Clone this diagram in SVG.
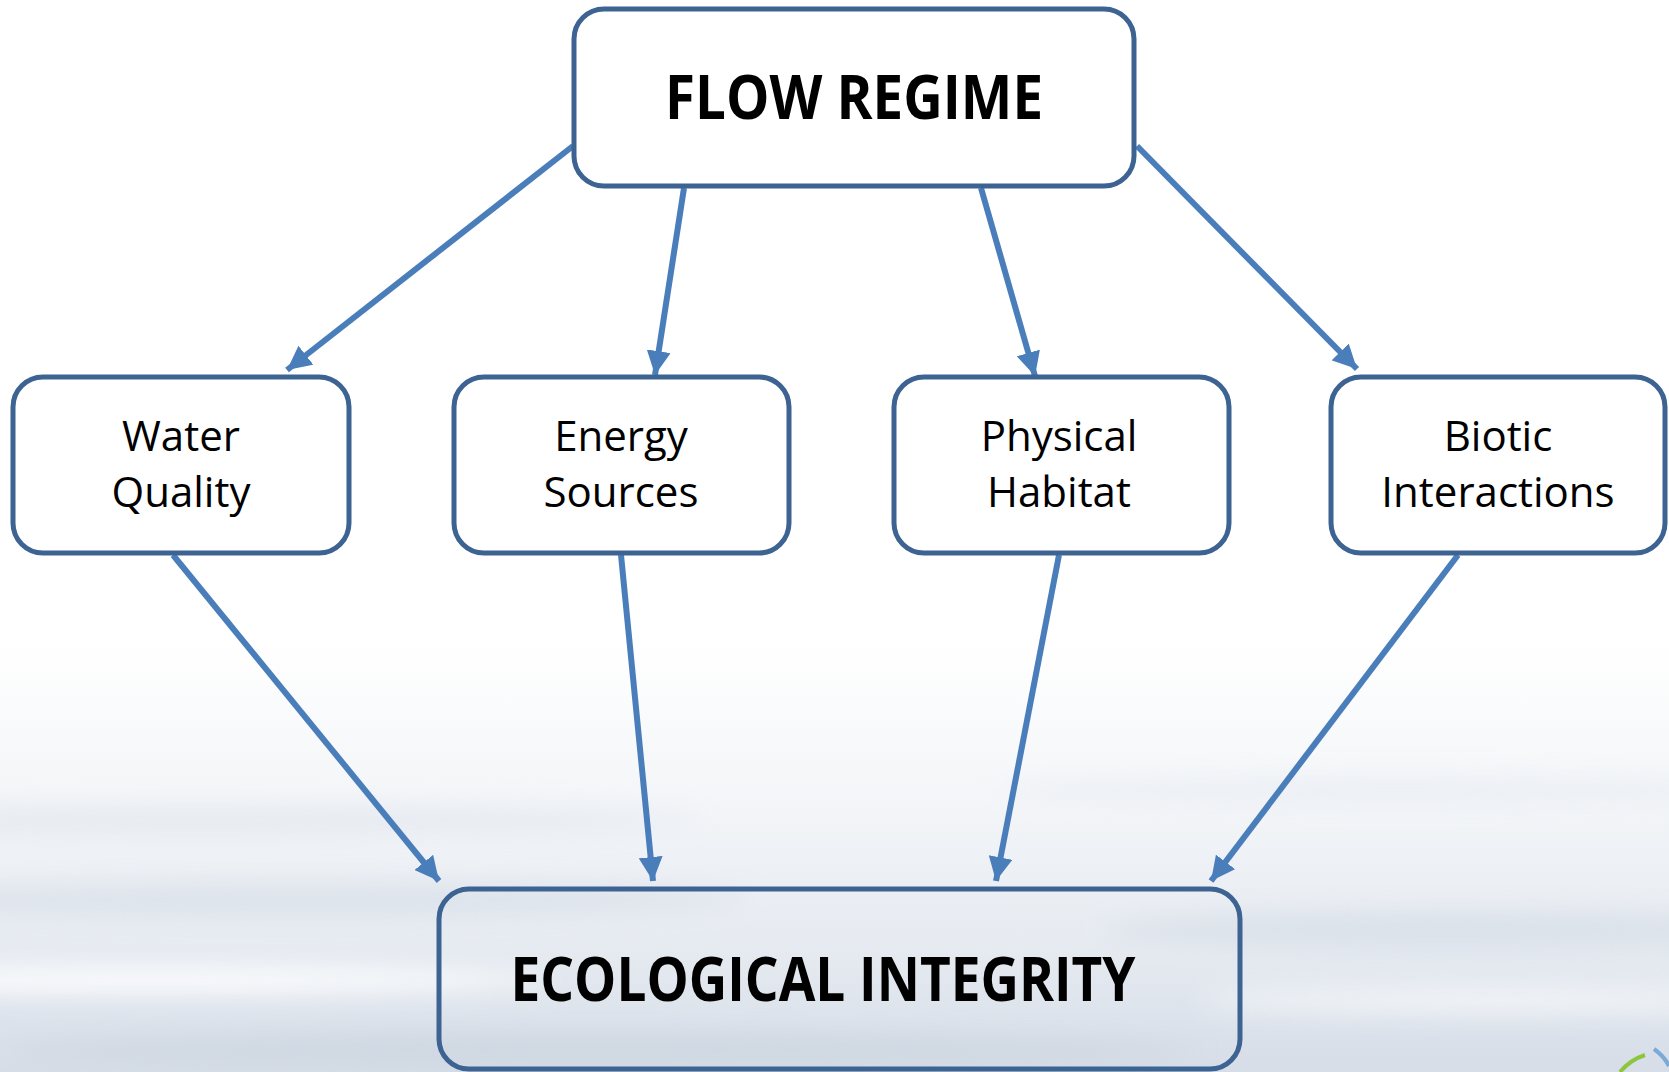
<svg xmlns="http://www.w3.org/2000/svg" width="1669" height="1072" viewBox="0 0 1669 1072">
  <defs>
    <linearGradient id="bg" x1="0" y1="0" x2="0" y2="1">
      <stop offset="0" stop-color="#ffffff"/>
      <stop offset="0.6" stop-color="#ffffff"/>
      <stop offset="0.75" stop-color="#f3f5f8"/>
      <stop offset="0.9" stop-color="#e4e9f0"/>
      <stop offset="1" stop-color="#d6dde7"/>
    </linearGradient>
    <filter id="blur" x="-20%" y="-200%" width="140%" height="500%">
      <feGaussianBlur stdDeviation="12"/>
    </filter>
    <marker id="arr" viewBox="0 0 10 10" refX="10" refY="5" markerWidth="4" markerHeight="4" orient="auto" markerUnits="strokeWidth">
      <path d="M0,0 L10,5 L0,10 z" fill="#4a7ebb"/>
    </marker>
    <style>
      .box { fill: #ffffff; stroke: #3d6392; stroke-width: 5; }
      .big { font-family: "Open Sans", "Liberation Sans", sans-serif; font-weight: bold; font-size: 60px; fill: #000; text-anchor: middle; }
      .lbl { font-family: "Open Sans", "Liberation Sans", sans-serif; font-size: 42px; fill: #000; text-anchor: middle; }
      .conn line { stroke: #4a7ebb; stroke-width: 6; marker-end: url(#arr); }
    </style>
  </defs>
  <rect width="1669" height="1072" fill="url(#bg)"/>
  <g filter="url(#blur)" opacity="0.8">
    <ellipse cx="200" cy="820" rx="500" ry="14" fill="#e3e8ef"/>
    <ellipse cx="1400" cy="790" rx="400" ry="12" fill="#e8ecf2"/>
    <ellipse cx="300" cy="900" rx="450" ry="16" fill="#d9e0e9"/>
    <ellipse cx="1450" cy="930" rx="350" ry="18" fill="#d8dfe8"/>
    <ellipse cx="150" cy="980" rx="400" ry="14" fill="#ffffff"/>
    <ellipse cx="1500" cy="1000" rx="300" ry="12" fill="#f7f9fb"/>
    <ellipse cx="600" cy="1050" rx="600" ry="16" fill="#ccd5e0"/>
  </g>

  <g class="conn" id="connectors">
    <line x1="573" y1="146" x2="287" y2="370"/>
    <line x1="684" y1="188" x2="655" y2="375"/>
    <line x1="981" y1="188" x2="1035" y2="376"/>
    <line x1="1137" y1="146" x2="1357" y2="369"/>
    <line x1="173" y1="555" x2="439" y2="881"/>
    <line x1="621" y1="555" x2="653" y2="881"/>
    <line x1="1059" y1="555" x2="996" y2="881"/>
    <line x1="1458" y1="555" x2="1211" y2="881"/>
  </g>

  <g id="flow-regime">
    <rect class="box" x="574" y="9" width="560" height="177" rx="30"/>
    <text class="big" x="854" y="119" textLength="378" lengthAdjust="spacingAndGlyphs">FLOW REGIME</text>
  </g>
  <g id="water-quality">
    <rect class="box" x="13" y="377" width="336" height="176" rx="30"/>
    <text class="lbl" x="181" y="451">Water</text>
    <text class="lbl" x="181" y="507">Quality</text>
  </g>
  <g id="energy-sources">
    <rect class="box" x="454" y="377" width="335" height="176" rx="30"/>
    <text class="lbl" x="621" y="451">Energy</text>
    <text class="lbl" x="621" y="507">Sources</text>
  </g>
  <g id="physical-habitat">
    <rect class="box" x="894" y="377" width="335" height="176" rx="30"/>
    <text class="lbl" x="1059" y="451">Physical</text>
    <text class="lbl" x="1059" y="507">Habitat</text>
  </g>
  <g id="biotic-interactions">
    <rect class="box" x="1331" y="377" width="334" height="176" rx="30"/>
    <text class="lbl" x="1498" y="451">Biotic</text>
    <text class="lbl" x="1498" y="507">Interactions</text>
  </g>
  <g id="ecological-integrity">
    <rect class="box" x="439" y="889" width="801" height="180" rx="30" style="fill:none"/>
    <text class="big" x="823" y="1001" textLength="625" lengthAdjust="spacingAndGlyphs">ECOLOGICAL INTEGRITY</text>
  </g>

  <g id="logo">
    <path d="M1620,1072 Q1630,1060 1645,1055" fill="none" stroke="#8cc63f" stroke-width="4"/>
    <path d="M1654,1049 Q1664,1056 1669,1066" fill="none" stroke="#7aaad8" stroke-width="4"/>
  </g>
</svg>
